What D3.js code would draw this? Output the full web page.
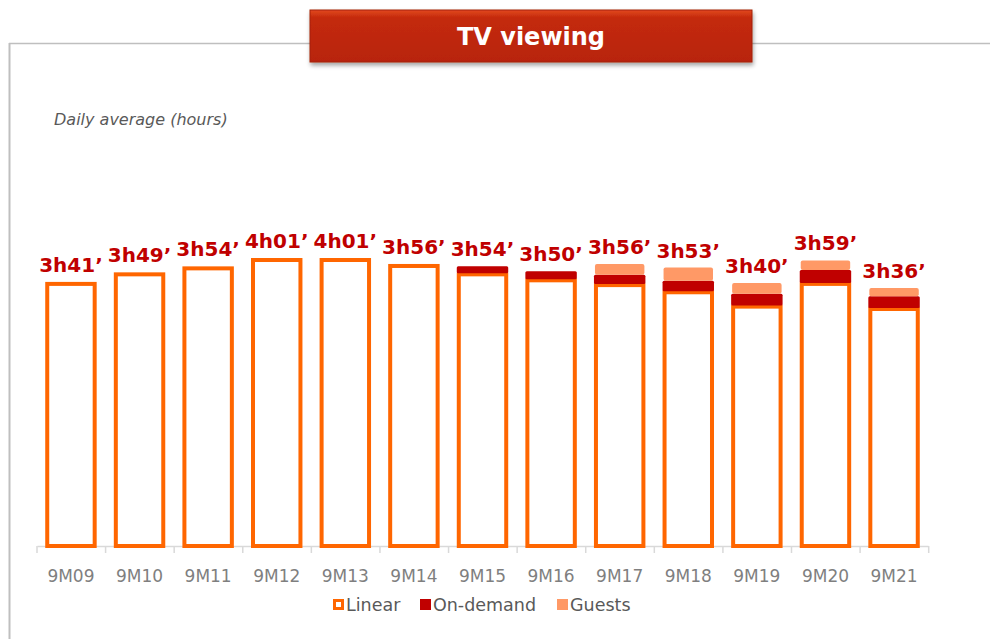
<!DOCTYPE html>
<html>
<head>
<meta charset="utf-8">
<script src="https://cdn.jsdelivr.net/npm/d3@7"></script>
<style>
  html, body { margin: 0; padding: 0; background: #fff; }
  svg { display: block; font-family: 'DejaVu Sans', Verdana, sans-serif; }
</style>
</head>
<body>
<svg id="chart" width="990" height="639"></svg>
<script>
// periods and daily minutes per segment
const periods = ['9M09', '9M10', '9M11', '9M12', '9M13', '9M14', '9M15', '9M16', '9M17', '9M18', '9M19', '9M20', '9M21'];
const linear = [221, 229, 234, 241, 241, 236, 229, 224, 220, 214, 202, 221, 200];
const onDemand = [0, 0, 0, 0, 0, 0, 5, 6, 7, 8, 9, 10, 9];
const guests = [0, 0, 0, 0, 0, 0, 0, 0, 9, 11, 9, 8, 7];
const totalLabels = ['3h41’', '3h49’', '3h54’', '4h01’', '4h01’', '3h56’', '3h54’', '3h50’', '3h56’', '3h53’', '3h40’', '3h59’', '3h36’'];
const legendNames = ['Linear', 'On-demand', 'Guests'];

const width = 990, height = 639;
const margin = { top: 247, right: 62, bottom: 93, left: 37 };
const colors = { linear: '#FF6600', onDemand: '#C00000', guests: '#FF9966' };

const svg = d3.select('#chart');

const x = d3
  .scaleBand()
  .domain(periods)
  .range([margin.left, width - margin.right])
  .paddingInner(0.25)
  .paddingOuter(0.12);

const y = d3
  .scaleLinear()
  .domain([0, 250])
  .range([height - margin.bottom, height - margin.bottom - 250 * 1.195]);

const baseY = y(0);

// frame
svg.append('line')
  .attr('x1', 9).attr('x2', width).attr('y1', 43.5).attr('y2', 43.5)
  .attr('stroke', '#BFBFBF').attr('stroke-width', 1.5);
svg.append('line')
  .attr('x1', 9.5).attr('x2', 9.5).attr('y1', 43).attr('y2', height)
  .attr('stroke', '#BFBFBF').attr('stroke-width', 2);

// title box
const defs = svg.append('defs');
const grad = defs.append('linearGradient').attr('id', 'titleGrad')
  .attr('x1', 0).attr('x2', 0).attr('y1', 0).attr('y2', 1);
grad.append('stop').attr('offset', '0%').attr('stop-color', '#E2491F');
grad.append('stop').attr('offset', '15%').attr('stop-color', '#C42A0C');
grad.append('stop').attr('offset', '100%').attr('stop-color', '#B8240A');
const shadow = defs.append('filter').attr('id', 'shadow')
  .attr('x', '-5%').attr('y', '-20%').attr('width', '110%').attr('height', '150%');
shadow.append('feDropShadow').attr('dx', 1).attr('dy', 3).attr('stdDeviation', 2)
  .attr('flood-color', '#000').attr('flood-opacity', 0.35);

svg.append('rect')
  .attr('x', 310).attr('y', 10).attr('width', 442).attr('height', 52)
  .attr('fill', 'url(#titleGrad)')
  .attr('stroke', '#A3200A').attr('stroke-width', 1)
  .attr('filter', 'url(#shadow)');
svg.append('text')
  .attr('x', 531).attr('y', 45)
  .attr('text-anchor', 'middle')
  .attr('fill', '#fff')
  .attr('font-size', 24).attr('font-weight', 'bold')
  .text('TV viewing');

svg.append('text')
  .attr('x', 54).attr('y', 125)
  .attr('fill', '#595959')
  .attr('font-size', 16).attr('font-style', 'italic')
  .text('Daily average (hours)');

// x axis
const xAxis = (g) =>
  g
    .attr('transform', `translate(0,${baseY})`)
    .call(d3.axisBottom(x).tickSize(0).tickPadding(24))
    .call((g) => g.select('.domain').attr('stroke', '#D9D9D9').attr('stroke-width', 1.5))
    .call((g) => g.selectAll('.tick text').attr('fill', '#7F7F7F').attr('font-size', 17)
      .attr('font-family', "'DejaVu Sans', Verdana, sans-serif"))
    .call((g) =>
      g.selectAll('.sep')
        .data(d3.range(periods.length + 1))
        .join('line')
        .attr('class', 'sep')
        .attr('x1', (i) => margin.left + i * x.step())
        .attr('x2', (i) => margin.left + i * x.step())
        .attr('y1', 0).attr('y2', 7)
        .attr('stroke', '#D9D9D9').attr('stroke-width', 1.5)
    );

svg.append('g').call(xAxis);

const data = periods.map((p, i) => ({
  period: p,
  linear: linear[i],
  onDemand: onDemand[i],
  guests: guests[i],
  label: totalLabels[i]
}));

const bars = svg.append('g');
const sw = 4;

// linear bars: outlined
bars.selectAll('.linear')
  .data(data)
  .join('rect')
  .attr('class', 'linear')
  .attr('x', (d) => x(d.period) + sw / 2)
  .attr('y', (d) => y(d.linear) + sw / 2)
  .attr('width', x.bandwidth() - sw)
  .attr('height', (d) => baseY - y(d.linear) - sw / 2)
  .attr('fill', '#fff')
  .attr('stroke', colors.linear)
  .attr('stroke-width', sw);

// on-demand segment
bars.selectAll('.ondemand')
  .data(data.filter((d) => d.onDemand > 0))
  .join('rect')
  .attr('class', 'ondemand')
  .attr('x', (d) => x(d.period))
  .attr('y', (d) => y(d.linear + d.onDemand))
  .attr('width', x.bandwidth())
  .attr('height', (d) => y(d.linear) - y(d.linear + d.onDemand) + 1)
  .attr('rx', 1.5)
  .attr('fill', colors.onDemand);

// guests segment
bars.selectAll('.guests')
  .data(data.filter((d) => d.guests > 0))
  .join('rect')
  .attr('class', 'guests')
  .attr('x', (d) => x(d.period) + 1)
  .attr('y', (d) => y(d.linear + d.onDemand + d.guests))
  .attr('width', x.bandwidth() - 2)
  .attr('height', (d) => y(d.linear + d.onDemand) - y(d.linear + d.onDemand + d.guests))
  .attr('rx', 2)
  .attr('fill', colors.guests);

// total labels
bars.selectAll('.total')
  .data(data)
  .join('text')
  .attr('class', 'total')
  .attr('x', (d) => x(d.period) + x.bandwidth() / 2)
  .attr('y', (d) => y(d.linear + d.onDemand + d.guests) - 10)
  .attr('text-anchor', 'middle')
  .attr('fill', '#C00000')
  .attr('font-size', 20)
  .attr('font-weight', 'bold')
  .text((d) => d.label);

// legend
const legend = svg.append('g').attr('transform', 'translate(333,606)');
const legendX = [0, 87, 224];
legendNames.forEach((name, i) => {
  const g = legend.append('g').attr('transform', `translate(${legendX[i]},0)`);
  if (i === 0) {
    g.append('rect').attr('x', 1.5).attr('y', -5.5).attr('width', 8).attr('height', 8)
      .attr('fill', '#fff').attr('stroke', colors.linear).attr('stroke-width', 3);
  } else {
    g.append('rect').attr('x', 0).attr('y', -7).attr('width', 11).attr('height', 11)
      .attr('fill', i === 1 ? colors.onDemand : colors.guests);
  }
  g.append('text')
    .attr('x', 13).attr('y', 5)
    .attr('fill', '#595959')
    .attr('font-size', 17.5)
    .text(name);
});
</script>
</body>
</html>
